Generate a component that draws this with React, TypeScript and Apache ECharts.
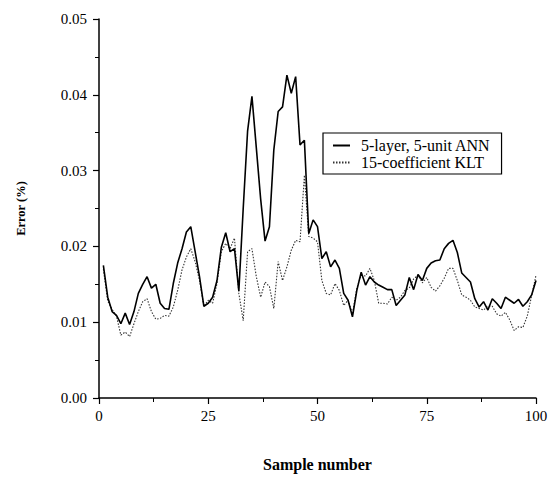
import React, { useEffect, useRef } from "react";
import * as echarts from "echarts";

const SERIES_NAMES = ["5-layer, 5-unit ANN", "15-coefficient KLT"];

const X_TICKS = [0, 25, 50, 75, 100];
const Y_TICKS = [0, 0.01, 0.02, 0.03, 0.04, 0.05];

// Sample numbers 1..100
const SAMPLES = [
  1, 2, 3, 4, 5, 6, 7, 8, 9, 10, 11, 12, 13, 14, 15, 16, 17, 18, 19, 20,
  21, 22, 23, 24, 25, 26, 27, 28, 29, 30, 31, 32, 33, 34, 35, 36, 37, 38, 39, 40,
  41, 42, 43, 44, 45, 46, 47, 48, 49, 50, 51, 52, 53, 54, 55, 56, 57, 58, 59, 60,
  61, 62, 63, 64, 65, 66, 67, 68, 69, 70, 71, 72, 73, 74, 75, 76, 77, 78, 79, 80,
  81, 82, 83, 84, 85, 86, 87, 88, 89, 90, 91, 92, 93, 94, 95, 96, 97, 98, 99, 100,
];

const ANN = [
  0.0175, 0.0133, 0.0114, 0.0109, 0.0098, 0.0112, 0.0097, 0.0114, 0.0138, 0.015,
  0.016, 0.0145, 0.015, 0.0125, 0.0118, 0.0117, 0.0151, 0.0178, 0.0197, 0.0219,
  0.0226, 0.0193, 0.016, 0.0121, 0.0125, 0.0133, 0.0155, 0.0199, 0.0218, 0.0193,
  0.0197, 0.0141, 0.025, 0.0352, 0.0398, 0.033, 0.0262, 0.0207, 0.0226, 0.0327,
  0.0378, 0.0384, 0.0426, 0.0402, 0.0424, 0.0334, 0.034, 0.0217, 0.0235, 0.0226,
  0.0184, 0.0193, 0.0173, 0.0182, 0.0171, 0.0138, 0.0129, 0.0107, 0.0142, 0.0166,
  0.0149, 0.016, 0.0153, 0.0149, 0.0146, 0.0143, 0.0143, 0.0122, 0.0129, 0.0136,
  0.0159, 0.0143, 0.0163, 0.0155, 0.0171, 0.0178, 0.0181, 0.0182, 0.0197, 0.0204,
  0.0208, 0.0192, 0.0165, 0.0159, 0.0153, 0.0131, 0.012, 0.0127, 0.0116, 0.0131,
  0.0125, 0.0118, 0.0133, 0.0129, 0.0125, 0.013, 0.0121, 0.0127, 0.0136, 0.0155,
];

const KLT = [
  0.017, 0.0128, 0.0117, 0.0108, 0.0083, 0.0087, 0.0081, 0.0098, 0.0114, 0.0127,
  0.0131, 0.0114, 0.0104, 0.0105, 0.0109, 0.0108, 0.012, 0.0142, 0.0169, 0.0186,
  0.0197, 0.018, 0.0155, 0.0121, 0.0129, 0.0125, 0.0151, 0.0193, 0.0204, 0.0197,
  0.0211, 0.0138, 0.0102, 0.0193, 0.0197, 0.016, 0.0133, 0.0153, 0.0147, 0.0118,
  0.018, 0.0155, 0.0173, 0.0195, 0.0208, 0.0206, 0.0294, 0.0213, 0.0211, 0.0206,
  0.0155, 0.0138, 0.0136, 0.0151, 0.0142, 0.0122, 0.0129, 0.0111, 0.0145, 0.0162,
  0.0161, 0.0171, 0.0155, 0.0125, 0.0125, 0.0124, 0.0133, 0.0129, 0.0133, 0.0142,
  0.0145, 0.0157, 0.0162, 0.0152, 0.0159, 0.0146, 0.0141, 0.0148, 0.0158, 0.0171,
  0.0171, 0.0155, 0.0136, 0.0133, 0.0129, 0.012, 0.0118, 0.0116, 0.0121, 0.0121,
  0.0111, 0.0108, 0.0113, 0.0103, 0.0089, 0.0094, 0.0093, 0.0108, 0.0135, 0.0162,
];

const FONT = "'Liberation Serif', 'Times New Roman', serif";

export default function App() {
  const ref = useRef<HTMLDivElement>(null);

  useEffect(() => {
    document.body.style.margin = "0";
    if (!ref.current) return;
    const chart = echarts.init(ref.current, null, { renderer: "svg" });
    const axisCommon = {
      axisLine: { show: true, lineStyle: { color: "#000", width: 1.5 } },
      axisTick: { show: true, inside: false, length: 6, lineStyle: { color: "#000", width: 1.2 } },
      minorTick: { show: true, splitNumber: 2, length: 4, lineStyle: { color: "#000", width: 1 } },
      splitLine: { show: false },
      minorSplitLine: { show: false },
    };
    chart.setOption({
      animation: false,
      backgroundColor: "#fff",
      textStyle: { fontFamily: FONT },
      grid: { left: 99, right: 15, top: 19, bottom: 81, containLabel: false },
      legend: {
        orient: "vertical",
        left: 323,
        top: 133,
        data: SERIES_NAMES,
        borderColor: "#000",
        borderWidth: 1.2,
        borderRadius: 0,
        padding: [4, 11, 3, 9],
        itemGap: 0,
        itemWidth: 17,
        itemHeight: 10,
        itemStyle: { opacity: 0 },
        textStyle: {
          fontFamily: FONT,
          fontSize: 16,
          color: "#000",
          lineHeight: 17,
          padding: [0, 0, 0, 6],
        },
      },
      xAxis: {
        type: "value",
        min: X_TICKS[0],
        max: X_TICKS[X_TICKS.length - 1],
        interval: 25,
        name: "Sample number",
        nameLocation: "middle",
        nameGap: 58,
        nameTextStyle: { fontFamily: FONT, fontSize: 16, fontWeight: "bold", color: "#000" },
        axisLabel: { fontFamily: FONT, fontSize: 15, color: "#000", margin: 10 },
        ...axisCommon,
      },
      yAxis: {
        type: "value",
        min: Y_TICKS[0],
        max: Y_TICKS[Y_TICKS.length - 1],
        interval: 0.01,
        name: "Error (%)",
        nameLocation: "middle",
        nameRotate: 90,
        nameGap: 72,
        nameTextStyle: { fontFamily: FONT, fontSize: 12.5, fontWeight: "bold", color: "#000" },
        axisLabel: {
          fontFamily: FONT,
          fontSize: 15,
          color: "#000",
          margin: 12,
          formatter: (v: number) => v.toFixed(2),
        },
        ...axisCommon,
      },
      series: [
        {
          name: SERIES_NAMES[0],
          type: "line",
          symbol: "none",
          data: SAMPLES.map((s, i) => [s, ANN[i]]),
          lineStyle: { color: "#000", width: 1.6, type: "solid" },
          itemStyle: { color: "#000" },
          z: 3,
        },
        {
          name: SERIES_NAMES[1],
          type: "line",
          symbol: "none",
          data: SAMPLES.map((s, i) => [s, KLT[i]]),
          lineStyle: { color: "#333", width: 1.1, type: [1.5, 1.5] },
          itemStyle: { color: "#333" },
          z: 2,
        },
      ],
    });
    return () => chart.dispose();
  }, []);

  return <div ref={ref} style={{ width: 551, height: 479 }} />;
}
